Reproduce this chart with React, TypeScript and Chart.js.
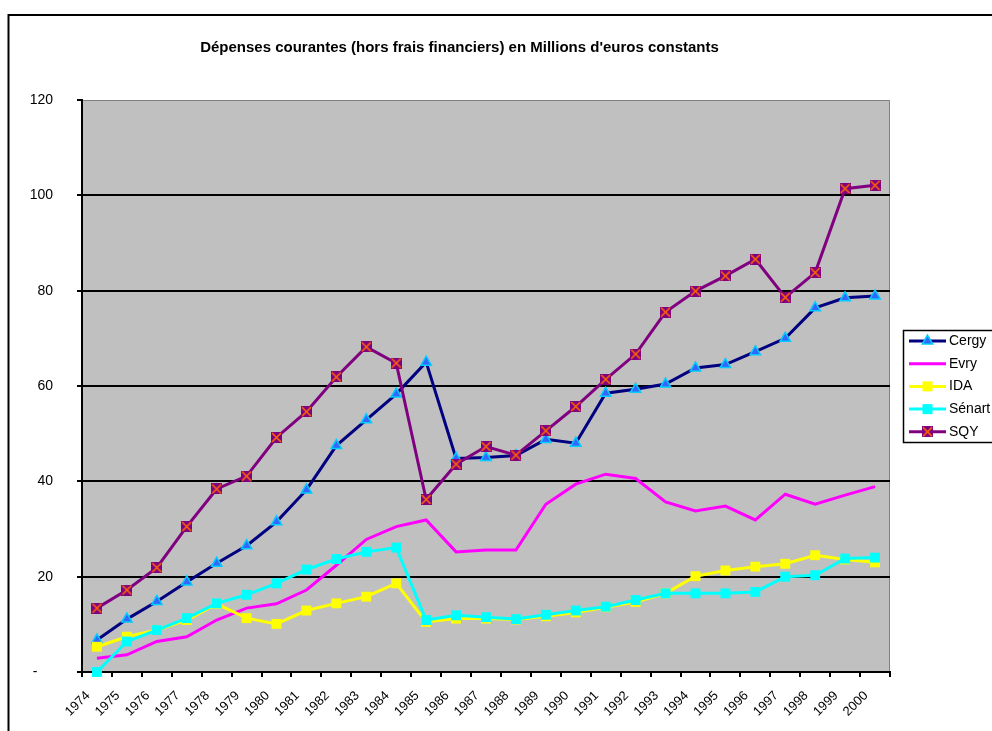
import React, { useEffect, useRef } from 'react';
import { Chart, registerables } from 'chart.js';

Chart.register(...registerables);

const TITLE = "Dépenses courantes (hors frais financiers) en Millions d'euros constants";

const years = [
  '1974', '1975', '1976', '1977', '1978', '1979', '1980', '1981', '1982', '1983',
  '1984', '1985', '1986', '1987', '1988', '1989', '1990', '1991', '1992', '1993',
  '1994', '1995', '1996', '1997', '1998', '1999', '2000',
];

const cergy = [6.7, 11.1, 14.8, 18.9, 22.8, 26.5, 31.5, 38.2, 47.5, 52.9, 58.3, 65.0, 44.8, 45.0, 45.4, 48.8, 48.0, 58.5, 59.3, 60.4, 63.8, 64.5, 67.2, 70.0, 76.4, 78.5, 78.9];
const evry = [2.9, 3.6, 6.4, 7.4, 10.9, 13.4, 14.3, 17.2, 22.4, 27.8, 30.5, 31.9, 25.2, 25.6, 25.6, 35.2, 39.4, 41.5, 40.6, 35.7, 33.8, 34.8, 31.9, 37.3, 35.2, 37.1, 38.9];
const ida = [5.3, 7.4, 8.8, 10.9, 14.3, 11.3, 10.1, 12.9, 14.4, 15.8, 18.6, 10.5, 11.2, 11.2, 11.0, 11.7, 12.5, 13.6, 14.7, 16.5, 20.1, 21.3, 22.1, 22.7, 24.5, 23.6, 23.0];
const senart = [0, 6.4, 8.8, 11.3, 14.4, 16.2, 18.6, 21.5, 23.7, 25.2, 26.1, 10.9, 11.9, 11.5, 11.1, 12.0, 12.9, 13.7, 15.1, 16.5, 16.5, 16.5, 16.8, 20.0, 20.3, 23.8, 24.0];
const sqy = [13.4, 17.2, 21.9, 30.5, 38.4, 41.1, 49.2, 54.6, 61.9, 68.2, 64.8, 36.2, 43.6, 47.3, 45.5, 50.6, 55.7, 61.4, 66.7, 75.5, 79.9, 83.1, 86.6, 78.6, 83.8, 101.4, 102.1];

const yTicks = [0, 20, 40, 60, 80, 100, 120];

const FONT = "'Liberation Sans', Arial, sans-serif";

function makeSqyMarker(): HTMLCanvasElement {
  const c = document.createElement('canvas');
  c.width = 11;
  c.height = 11;
  const g = c.getContext('2d')!;
  g.fillStyle = '#800080';
  g.fillRect(0, 0, 11, 11);
  g.strokeStyle = '#ff6600';
  g.lineWidth = 1.6;
  g.beginPath();
  g.moveTo(1, 1);
  g.lineTo(10, 10);
  g.moveTo(10, 1);
  g.lineTo(1, 10);
  g.stroke();
  return c;
}

function drawMarker(ctx: CanvasRenderingContext2D, kind: string, x: number, y: number, fill: string, stroke: string, img?: HTMLCanvasElement) {
  if (kind === 'triangle') {
    const r = 6;
    ctx.beginPath();
    ctx.moveTo(x, y - r);
    ctx.lineTo(x + r * 0.866, y + r * 0.5);
    ctx.lineTo(x - r * 0.866, y + r * 0.5);
    ctx.closePath();
    ctx.fillStyle = fill;
    ctx.fill();
    ctx.strokeStyle = stroke;
    ctx.lineWidth = 1.5;
    ctx.stroke();
  } else if (kind === 'rect') {
    ctx.fillStyle = fill;
    ctx.fillRect(x - 5, y - 5, 10, 10);
  } else if (kind === 'image' && img) {
    ctx.drawImage(img, x - 5.5, y - 5.5);
  }
}

export default function App() {
  const ref = useRef<HTMLCanvasElement | null>(null);

  useEffect(() => {
    if (!ref.current) return;
    const sqyMarker = makeSqyMarker();

    const legendItems = [
      { label: 'Cergy', color: '#000080', kind: 'triangle', fill: '#3366ff', stroke: '#00ccff' },
      { label: 'Evry', color: '#ff00ff', kind: 'none', fill: '', stroke: '' },
      { label: 'IDA', color: '#ffff00', kind: 'rect', fill: '#ffff00', stroke: '#ffff00' },
      { label: 'Sénart', color: '#00ffff', kind: 'rect', fill: '#00ffff', stroke: '#00ffff' },
      { label: 'SQY', color: '#800080', kind: 'image', fill: '', stroke: '' },
    ];

    const decor = {
      id: 'decor',
      beforeDraw(chart: any) {
        const { ctx, chartArea: a } = chart;
        ctx.save();
        ctx.fillStyle = '#ffffff';
        ctx.fillRect(0, 0, chart.width, chart.height);
        ctx.strokeStyle = '#000000';
        ctx.lineWidth = 2;
        ctx.strokeRect(8.5, 15, 1200, 1000);
        ctx.fillStyle = '#c0c0c0';
        ctx.fillRect(a.left, a.top, a.right - a.left, a.bottom - a.top);
        ctx.strokeStyle = '#808080';
        ctx.lineWidth = 1;
        ctx.beginPath();
        ctx.moveTo(a.left, a.top + 0.5);
        ctx.lineTo(a.right - 0.5, a.top + 0.5);
        ctx.lineTo(a.right - 0.5, a.bottom);
        ctx.stroke();
        // title
        ctx.fillStyle = '#000000';
        ctx.font = `bold 15px ${FONT}`;
        ctx.textAlign = 'center';
        ctx.textBaseline = 'alphabetic';
        ctx.fillText(TITLE, 459.5, 52);
        ctx.restore();
      },
      afterDraw(chart: any) {
        const { ctx } = chart;
        ctx.save();
        const bx = 903.5, by = 330.5, bw = 200, bh = 112;
        ctx.fillStyle = '#ffffff';
        ctx.fillRect(bx, by, bw, bh);
        ctx.strokeStyle = '#000000';
        ctx.lineWidth = 1.5;
        ctx.strokeRect(bx, by, bw, bh);
        legendItems.forEach((it, i) => {
          const y = 341 + i * 22.7;
          ctx.strokeStyle = it.color;
          ctx.lineWidth = 3;
          ctx.beginPath();
          ctx.moveTo(909, y);
          ctx.lineTo(946, y);
          ctx.stroke();
          drawMarker(ctx, it.kind, 927.5, y, it.fill, it.stroke, sqyMarker);
          ctx.fillStyle = '#000000';
          ctx.font = `14px ${FONT}`;
          ctx.textAlign = 'left';
          ctx.textBaseline = 'middle';
          ctx.fillText(it.label, 949, y);
        });
        ctx.restore();
      },
    };

    const common = { borderWidth: 3, tension: 0, clip: 12 as any };

    const chart = new Chart(ref.current, {
      type: 'line',
      data: {
        labels: years,
        datasets: [
          {
            ...common, label: 'Cergy', data: cergy, order: 5,
            borderColor: '#000080', backgroundColor: '#000080',
            pointStyle: 'triangle', pointRadius: 6, pointBackgroundColor: '#3366ff',
            pointBorderColor: '#00ccff', pointBorderWidth: 1.5,
          },
          {
            ...common, label: 'Evry', data: evry, order: 4,
            borderColor: '#ff00ff', backgroundColor: '#ff00ff', pointRadius: 0,
          },
          {
            ...common, label: 'IDA', data: ida, order: 3,
            borderColor: '#ffff00', backgroundColor: '#ffff00',
            pointStyle: 'rect', pointRadius: 7, pointBackgroundColor: '#ffff00',
            pointBorderColor: '#ffff00', pointBorderWidth: 0,
          },
          {
            ...common, label: 'Sénart', data: senart, order: 2,
            borderColor: '#00ffff', backgroundColor: '#00ffff',
            pointStyle: 'rect', pointRadius: 7, pointBackgroundColor: '#00ffff',
            pointBorderColor: '#00ffff', pointBorderWidth: 0,
          },
          {
            ...common, label: 'SQY', data: sqy, order: 1,
            borderColor: '#800080', backgroundColor: '#800080',
            pointStyle: sqyMarker as any, pointRadius: 6,
          },
        ],
      },
      options: {
        responsive: false,
        animation: false,
        devicePixelRatio: 1,
        events: [],
        layout: { padding: { top: 100, right: 102, left: 0, bottom: 0 } },
        plugins: {
          legend: { display: false },
          title: { display: false },
          tooltip: { enabled: false },
        },
        scales: {
          x: {
            type: 'category',
            offset: true,
            grid: {
              offset: true,
              display: true,
              drawOnChartArea: false,
              drawTicks: true,
              tickLength: 5,
              color: '#000000',
              lineWidth: 2,
            },
            border: { display: true, color: '#000000', width: 2 },
            ticks: {
              autoSkip: false,
              maxRotation: 45,
              minRotation: 45,
              color: '#000000',
              font: { family: FONT, size: 13 },
              padding: 11,
              labelOffset: -9,
            },
            afterFit(scale: any) { scale.height = 59; },
          },
          y: {
            min: 0,
            max: 120,
            afterBuildTicks(scale: any) { scale.ticks = yTicks.map((v) => ({ value: v })); },
            grid: {
              color: (c: any) => (c.tick && c.tick.value === 120 ? 'rgba(0,0,0,0)' : '#000000'),
              tickColor: '#000000',
              lineWidth: 2,
              drawTicks: true,
              tickLength: 5,
            },
            border: { display: true, color: '#000000', width: 2 },
            ticks: {
              color: '#000000',
              font: { family: FONT, size: 14 },
              padding: 24,
              callback: (v: any) => (Number(v) === 0 ? '-    ' : String(v)),
            },
            afterFit(scale: any) { scale.width = 82; },
          },
        },
      },
      plugins: [decor],
    });

    return () => chart.destroy();
  }, []);

  return (
    <canvas
      ref={ref}
      width={992}
      height={731}
      style={{ position: 'fixed', left: 0, top: 0, width: 992, height: 731, display: 'block' }}
    />
  );
}
